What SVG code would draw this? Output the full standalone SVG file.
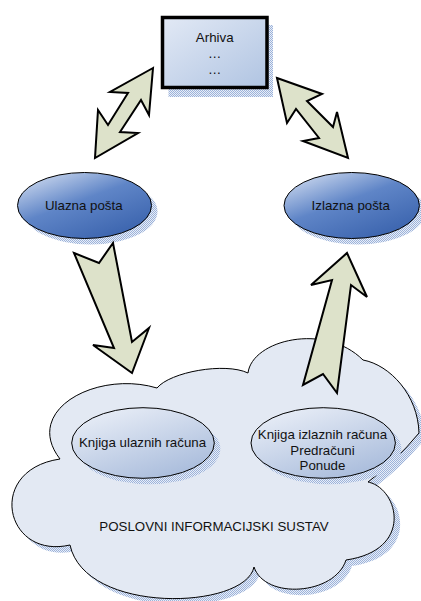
<svg xmlns="http://www.w3.org/2000/svg" width="421" height="601" viewBox="0 0 421 601">
<defs>
<pattern id="dots" width="2" height="2" patternUnits="userSpaceOnUse">
<rect width="2" height="2" fill="#e8eef7"/>
<rect width="1" height="1" fill="#9cb2da"/>
<rect x="1" y="1" width="1" height="1" fill="#9cb2da"/>
</pattern>
<linearGradient id="gBox" x1="0" y1="0" x2="1" y2="1">
<stop offset="0" stop-color="#e2e9f5"/>
<stop offset="1" stop-color="#b0c4e2"/>
</linearGradient>
<linearGradient id="gBlue" x1="0.1" y1="0" x2="0.85" y2="1">
<stop offset="0" stop-color="#d3def1"/>
<stop offset="0.45" stop-color="#5f85c7"/>
<stop offset="1" stop-color="#3760ab"/>
</linearGradient>
<linearGradient id="gInner" x1="0.2" y1="0" x2="0.85" y2="1">
<stop offset="0" stop-color="#e9eef7"/>
<stop offset="1" stop-color="#a5b9da"/>
</linearGradient>
<path id="cloudPath" d="M60,459 C22,410 97,370 157,388 C170,372 225,362 248,373 C252,340 325,322 363,360 C390,365 418,395 419,433 Q395,462 368,482 C398,488 415,550 346,560 C335,595 265,600 254,567 C245,610 85,615 70,545 C5,560 -15,470 60,459 Z"/>
</defs>
<style>
.sh{fill:url(#dots);stroke:none}
.lbl{font-family:"Liberation Sans",Arial,sans-serif;font-size:13.3px;fill:#111;text-anchor:middle}
.arr{fill:#dde2ca;stroke:#000;stroke-width:2;stroke-linejoin:miter}
.ell{fill:url(#gBlue);stroke:#000;stroke-width:1}
.inn{fill:url(#gInner);stroke:#000;stroke-width:1}
</style>
<rect width="421" height="601" fill="#fff"/>

<g id="pis">
<use href="#cloudPath" class="sh" transform="translate(6,6)"/>
<use href="#cloudPath" fill="#e3e9f3" stroke="#000" stroke-width="1"/>
<text class="lbl" x="214" y="530.5">POSLOVNI INFORMACIJSKI SUSTAV</text>
</g>

<g id="knjiga-ulaznih">
<ellipse class="sh" cx="149" cy="449" rx="71.3" ry="35.3"/>
<ellipse class="inn" cx="143" cy="443" rx="71.3" ry="35.3"/>
<text class="lbl" x="142.5" y="447">Knjiga ulaznih računa</text>
</g>

<g id="knjiga-izlaznih">
<ellipse class="sh" cx="329.2" cy="449" rx="72.2" ry="35.3"/>
<ellipse class="inn" cx="323.2" cy="443" rx="72.2" ry="35.3"/>
<text class="lbl" x="322.5" y="439">Knjiga izlaznih računa</text>
<text class="lbl" x="322.5" y="454.5">Predračuni</text>
<text class="lbl" x="322.5" y="470">Ponude</text>
</g>

<g id="arhiva">
<rect class="sh" x="168.5" y="25" width="104.5" height="72"/>
<rect x="162.5" y="17.5" width="104.5" height="70" fill="url(#gBox)" stroke="#000" stroke-width="3.5"/>
<text class="lbl" x="214.7" y="42">Arhiva</text>
<text class="lbl" x="214.7" y="58">…</text>
<text class="lbl" x="214.7" y="73.5">…</text>
</g>

<g id="ulazna">
<ellipse class="sh" cx="90.5" cy="211.5" rx="67" ry="33"/>
<ellipse class="ell" cx="84.5" cy="205.5" rx="67" ry="33"/>
<text class="lbl" x="83.8" y="209.5">Ulazna pošta</text>
</g>

<g id="izlazna">
<ellipse class="sh" cx="357.7" cy="211.5" rx="67.7" ry="33"/>
<ellipse class="ell" cx="351.7" cy="205.5" rx="67.7" ry="33"/>
<text class="lbl" x="350.8" y="209.5">Izlazna pošta</text>
</g>

<g id="connectors">
<polygon class="arr" points="153,68 110,92 128,93 108,125 98,110 95,158 138,133 120,132 141,100 149,115"/>
<polygon class="arr" points="277,78 322,94 307,101 333,127 337,112 348,158 303,141 319,138 296,109 287,123"/>
<polygon class="arr" points="74,253 99,263 113,243 132,342 149,328 132,373 93,345 114,348"/>
<polygon class="arr" points="347,253 367,297 351,285 337,393 323,374 303,385 332,280 311,285"/>
</g>
</svg>
